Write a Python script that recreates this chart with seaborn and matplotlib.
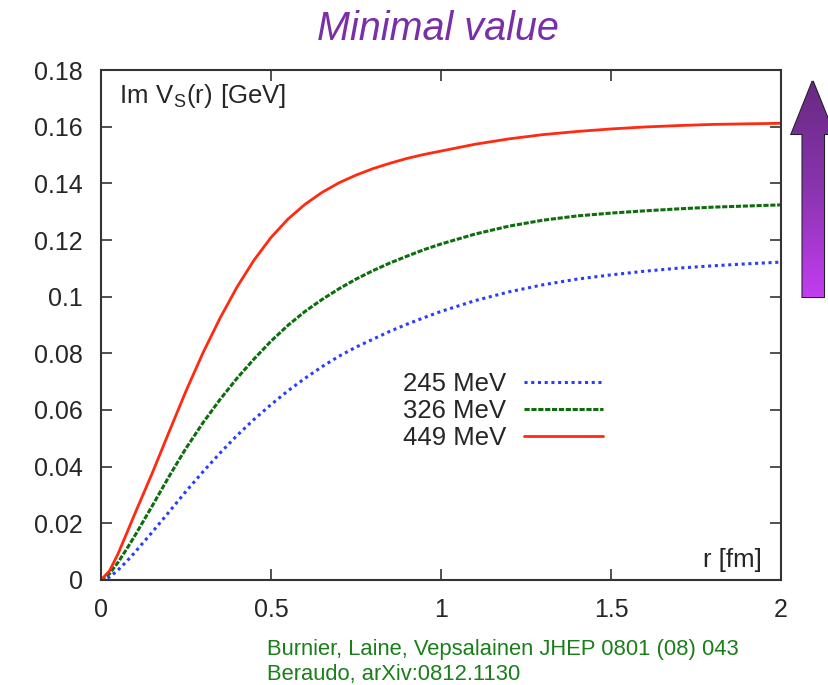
import numpy as np
import pandas as pd
import matplotlib
matplotlib.use("Agg")
import matplotlib.pyplot as plt
from matplotlib.patches import Polygon
from matplotlib.colors import LinearSegmentedColormap
import seaborn as sns

# ---- data ----
r_449 = [0, 0.025, 0.05, 0.075, 0.1, 0.15, 0.2, 0.25, 0.3, 0.35, 0.4, 0.45, 0.5, 0.55,
         0.6, 0.65, 0.7, 0.75, 0.8, 0.85, 0.9, 0.95, 1.0, 1.1, 1.2, 1.3, 1.4, 1.5,
         1.6, 1.7, 1.8, 1.9, 2.0]
im_449 = [0, 0.0032, 0.0092, 0.0163, 0.0235, 0.0375, 0.0522, 0.0667, 0.0802, 0.0924,
          0.1034, 0.1129, 0.1209, 0.1274, 0.1326, 0.1368, 0.1402, 0.1429, 0.1452,
          0.1471, 0.1488, 0.1502, 0.1514, 0.1538, 0.1557, 0.1572, 0.1583, 0.1592,
          0.1599, 0.1604, 0.1608, 0.1610, 0.1612]

r_326 = [0, 0.025, 0.05, 0.075, 0.1, 0.15, 0.2, 0.25, 0.3, 0.35, 0.4, 0.45, 0.5, 0.55,
         0.6, 0.65, 0.7, 0.75, 0.8, 0.85, 0.9, 0.95, 1.0, 1.1, 1.2, 1.3, 1.4, 1.5,
         1.6, 1.7, 1.8, 1.9, 2.0]
im_326 = [0, 0.0022, 0.0062, 0.0108, 0.0157, 0.026, 0.0365, 0.0465, 0.0555, 0.0637,
          0.0712, 0.078, 0.0843, 0.0899, 0.0948, 0.099, 0.1028, 0.1062, 0.1092,
          0.1119, 0.1143, 0.1166, 0.1186, 0.1221, 0.1249, 0.1270, 0.1285, 0.1295,
          0.1303, 0.1310, 0.1316, 0.1320, 0.1324]

r_245 = [0, 0.025, 0.05, 0.075, 0.1, 0.15, 0.2, 0.25, 0.3, 0.35, 0.4, 0.45, 0.5, 0.55,
         0.6, 0.65, 0.7, 0.75, 0.8, 0.85, 0.9, 0.95, 1.0, 1.1, 1.2, 1.3, 1.4, 1.5,
         1.6, 1.7, 1.8, 1.9, 2.0]
im_245 = [0, 0.001, 0.0035, 0.0065, 0.0098, 0.0168, 0.024, 0.0313, 0.0382, 0.0448,
          0.051, 0.0567, 0.0619, 0.0668, 0.0712, 0.0753, 0.079, 0.0822, 0.085,
          0.0878, 0.0903, 0.0926, 0.0948, 0.0986, 0.1017, 0.1042, 0.1062, 0.1077,
          0.109, 0.1101, 0.1109, 0.1116, 0.1122]

labels = ["245 MeV", "326 MeV", "449 MeV"]
x_ticks = [0, 0.5, 1, 1.5, 2]
x_ticklabels = ["0", "0.5", "1", "1.5", "2"]
y_ticks = [0, 0.02, 0.04, 0.06, 0.08, 0.1, 0.12, 0.14, 0.16, 0.18]
y_ticklabels = ["0", "0.02", "0.04", "0.06", "0.08", "0.1", "0.12", "0.14", "0.16", "0.18"]

sns.set_theme(style="ticks")
plt.rcParams["font.family"] = ["Liberation Sans", "DejaVu Sans"]

fig = plt.figure(figsize=(8.29, 6.85), dpi=100)
ax = fig.add_axes([0.1218, 0.1533, 0.8205, 0.7445])

series = [
    (r_245, im_245, labels[0], "#2a3cff", (0, (1, 1.2)), 2.2),
    (r_326, im_326, labels[1], "#0e6e0e", (0, (1.7, 0.55)), 2.2),
    (r_449, im_449, labels[2], "#ff2a10", "-", 2.0),
]
for rr, vv, lab, col, ls, lw in series:
    df = pd.DataFrame({"r": rr, "im": vv})
    sns.lineplot(data=df, x="r", y="im", ax=ax, color=col, linestyle=ls,
                 linewidth=lw, label=lab)

ax.set_xlim(0, 2)
ax.set_ylim(0, 0.18)
ax.set_xticks(x_ticks)
ax.set_xticklabels(x_ticklabels)
ax.set_yticks(y_ticks)
ax.set_yticklabels(y_ticklabels)
ax.set_xlabel("")
ax.set_ylabel("")
ax.tick_params(direction="in", top=True, right=True, length=8, width=1.2,
               color="#333333", labelsize=18, pad=13)
for sp in ax.spines.values():
    sp.set_color("#333333")
    sp.set_linewidth(1.5)

ax.text(0.027, 0.935, r"$\mathregular{Im\ V_S(r)\ [GeV]}$", transform=ax.transAxes,
        ha="left", va="baseline", fontsize=18.5)
ax.text(0.972, 0.015, "r [fm]", transform=ax.transAxes, ha="right", va="bottom",
        fontsize=18.5)

leg = ax.legend(loc="center", bbox_to_anchor=(0.591, 0.331), frameon=False,
                markerfirst=False, fontsize=18.5, handlelength=3.05,
                labelspacing=0.12, handletextpad=0.7)

fig.text(0.528, 1 - 40 / 685, "Minimal value", ha="center", va="baseline",
         fontsize=28.5, style="italic", color="#7a2fa8")
fig.text(0.322, 1 - 655 / 685, "Burnier, Laine, Vepsalainen JHEP 0801 (08) 043",
         ha="left", va="baseline", fontsize=15.8, color="#1a7f1a")
fig.text(0.322, 1 - 680 / 685, "Beraudo, arXiv:0812.1130", ha="left",
         va="baseline", fontsize=15.8, color="#1a7f1a")

# purple gradient arrow on the right
ov = fig.add_axes([0, 0, 1, 1], zorder=5)
ov.set_xlim(0, 829)
ov.set_ylim(685, 0)
ov.axis("off")
pts = [(812.7, 81), (791.5, 134), (802.5, 134), (802.5, 297), (824, 297),
       (824, 134), (834, 134)]
poly = Polygon(pts, closed=True, facecolor="none", edgecolor="#222222",
               linewidth=1.5)
ov.add_patch(poly)
cmap = LinearSegmentedColormap.from_list("arrow", ["#662a80", "#8a34b0", "#c43df2"])
grad = np.linspace(0, 1, 256).reshape(-1, 1)
im = ov.imshow(grad, cmap=cmap, aspect="auto", extent=[785, 840, 300, 78],
               zorder=4)
im.set_clip_path(poly)
ov.set_xlim(0, 829)
ov.set_ylim(685, 0)

fig.savefig("out.png", dpi=100)
